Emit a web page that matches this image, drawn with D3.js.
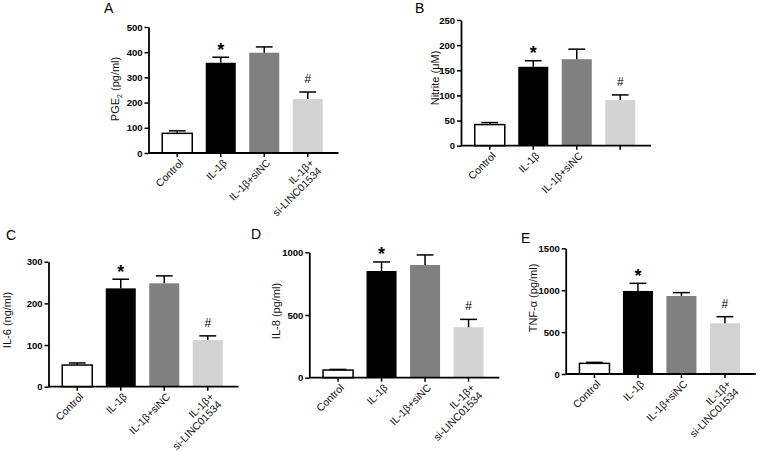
<!DOCTYPE html>
<html>
<head>
<meta charset="utf-8">
<script src="https://cdn.jsdelivr.net/npm/d3@7/dist/d3.min.js"></script>
<style>
  html, body { margin: 0; padding: 0; background: #fff; }
  svg { display: block; font-family: "Liberation Sans", Arial, sans-serif; }
</style>
</head>
<body>
<svg id="chart" width="760" height="452"></svg>
<script>
// ---------- data ----------
const categories = ["Control", "IL-1β", "IL-1β+siNC", "IL-1β+|si-LINC01534"];
const categoriesB = ["Control", "IL-1β", "IL-1β+siNC", ""];
const barColors = ["#ffffff", "#000000", "#808080", "#d3d3d3"];
const marks = ["", "*", "", "#"];

const pgeMean = [78, 358, 398, 214];
const pgeErr = [10, 22, 23, 28];
const pgeTicks = [0, 100, 200, 300, 400, 500];

const nitriteMean = [42, 157, 172, 91];
const nitriteErr = [4, 12, 20, 10];
const nitriteTicks = [0, 50, 100, 150, 200, 250];

const il6Mean = [52, 236, 248, 112];
const il6Err = [5, 22, 18, 10];
const il6Ticks = [0, 100, 200, 300];

const il8Mean = [61, 851, 899, 402];
const il8Err = [5, 72, 80, 63];
const il8Ticks = [0, 500, 1000];

const tnfMean = [127, 991, 931, 605];
const tnfErr = [12, 91, 40, 79];
const tnfTicks = [0, 500, 1000, 1500];

// ---------- layout ----------
const panels = [
  { letter: "A", title: "PGE|2| (pg/ml)", mean: pgeMean, err: pgeErr, ticks: pgeTicks, cats: categories,
    ax: 148.5, y0: 153, yTop: 27, lx: 104, ly: 13, tx: 115, ty: 89 },
  { letter: "B", title: "Nitrite (μM)", mean: nitriteMean, err: nitriteErr, ticks: nitriteTicks, cats: categoriesB,
    ax: 461, y0: 145.7, yTop: 20, lx: 415, ly: 13, tx: 435, ty: 78 },
  { letter: "C", title: "IL-6 (ng/ml)", mean: il6Mean, err: il6Err, ticks: il6Ticks, cats: categories,
    ax: 48.5, y0: 386.7, yTop: 261.7, lx: 6, ly: 239.5, tx: 7, ty: 320 },
  { letter: "D", title: "IL-8 (pg/ml)", mean: il8Mean, err: il8Err, ticks: il8Ticks, cats: categories,
    ax: 309.3, y0: 377.7, yTop: 252.3, lx: 251, ly: 238.5, tx: 276, ty: 311 },
  { letter: "E", title: "TNF-α (pg/ml)", mean: tnfMean, err: tnfErr, ticks: tnfTicks, cats: categories,
    ax: 565.7, y0: 374, yTop: 248.3, lx: 521, ly: 243, tx: 533, ty: 298 }
];

const svg = d3.select("#chart");

panels.forEach(p => {
  const g = svg.append("g");
  const yMax = p.ticks[p.ticks.length - 1];
  const y = d3.scaleLinear().domain([0, yMax]).range([p.y0, p.yTop]);
  const idx = d3.range(p.mean.length);
  const x = d3.scaleBand().domain(idx).range([p.ax + 7, p.ax + 181])
    .paddingInner(0.31).paddingOuter(0.155);
  const bw = x.bandwidth();

  // bars
  g.selectAll("rect.bar").data(idx).join("rect")
    .attr("x", i => x(i)).attr("width", bw)
    .attr("y", i => y(p.mean[i])).attr("height", i => p.y0 - y(p.mean[i]))
    .attr("fill", i => barColors[i])
    .attr("stroke", i => i === 0 ? "#000" : "none")
    .attr("stroke-width", 1.5);

  // error bars (upper only)
  const capW = bw * 0.56;
  g.selectAll("line.ev").data(idx).join("line")
    .attr("x1", i => x(i) + bw / 2).attr("x2", i => x(i) + bw / 2)
    .attr("y1", i => y(p.mean[i])).attr("y2", i => y(p.mean[i] + p.err[i]))
    .attr("stroke", "#000").attr("stroke-width", 1.5);
  g.selectAll("line.ec").data(idx).join("line")
    .attr("x1", i => x(i) + bw / 2 - capW / 2).attr("x2", i => x(i) + bw / 2 + capW / 2)
    .attr("y1", i => y(p.mean[i] + p.err[i])).attr("y2", i => y(p.mean[i] + p.err[i]))
    .attr("stroke", "#000").attr("stroke-width", 1.5);

  // significance marks
  g.selectAll("text.mk").data(idx.filter(i => marks[i])).join("text")
    .attr("x", i => x(i) + bw / 2)
    .attr("y", i => y(p.mean[i] + p.err[i]) - (marks[i] === "*" ? 1.5 : 9))
    .attr("text-anchor", "middle")
    .attr("font-size", i => marks[i] === "*" ? 18 : 12)
    .attr("font-weight", i => marks[i] === "*" ? "bold" : "normal")
    .text(i => marks[i]);

  // y axis
  const yAxis = d3.axisLeft(y).tickValues(p.ticks).tickFormat(d3.format("d"))
    .tickSize(4).tickSizeOuter(0).tickPadding(2);
  const gy = g.append("g").attr("transform", `translate(${p.ax},0)`).call(yAxis);
  gy.select(".domain").attr("stroke-width", 1.8);
  gy.selectAll(".tick line").attr("stroke-width", 1.5);
  gy.selectAll(".tick text").attr("font-size", 9.5).attr("font-weight", "bold")
    .attr("font-family", "'Liberation Sans', Arial, sans-serif").attr("fill", "#000");

  // x axis
  const xAxisLine = d3.scaleLinear().domain([0, 1]).range([p.ax, p.ax + 190]);
  g.append("line").attr("x1", xAxisLine(0)).attr("x2", xAxisLine(1))
    .attr("y1", p.y0).attr("y2", p.y0).attr("stroke", "#000").attr("stroke-width", 1.8);
  g.selectAll("line.xt").data(idx).join("line")
    .attr("x1", i => x(i) + bw / 2).attr("x2", i => x(i) + bw / 2)
    .attr("y1", p.y0).attr("y2", p.y0 + 4).attr("stroke", "#000").attr("stroke-width", 1.5);

  // x labels
  const lab = g.selectAll("text.xl").data(idx).join("text")
    .attr("transform", i => `translate(${x(i) + bw / 2 + 3},${p.y0 + 7}) rotate(-45)`)
    .attr("text-anchor", "end")
    .attr("font-size", 10.5).attr("fill", "#111");
  lab.each(function (i) {
    const parts = p.cats[i].split("|");
    const t = d3.select(this);
    parts.forEach((s, k) => {
      t.append("tspan").attr("x", 0).attr("dy", k === 0 ? "0.5em" : "1.05em").text(s);
    });
  });

  // y title
  const tt = g.append("text")
    .attr("transform", `translate(${p.tx},${p.ty}) rotate(-90)`)
    .attr("dy", "0.35em").attr("text-anchor", "middle").attr("font-size", 11).attr("fill", "#111");
  const tparts = p.title.split("|");
  tt.append("tspan").text(tparts[0]);
  if (tparts.length > 1) {
    tt.append("tspan").attr("font-size", 7).attr("dy", 3).text(tparts[1]);
    tt.append("tspan").attr("dy", -3).text(tparts[2]);
  }

  // panel letter
  g.append("text").attr("x", p.lx).attr("y", p.ly).attr("font-size", 14).text(p.letter);
});
</script>
</body>
</html>
